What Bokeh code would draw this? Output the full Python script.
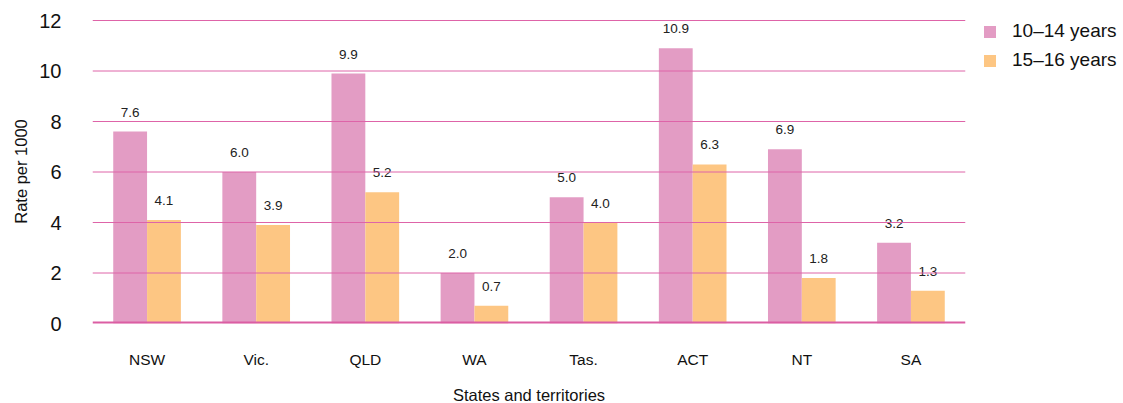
from bokeh.plotting import figure
from bokeh.models import (ColumnDataSource, FactorRange, Range1d, Span, Legend, LegendItem,
                          LabelSet, FixedTicker)
from bokeh.core.properties import value
from bokeh.transform import dodge
from bokeh.embed import file_html
from bokeh.resources import INLINE

states = ["NSW", "Vic.", "QLD", "WA", "Tas.", "ACT", "NT", "SA"]
age_10_14 = [7.6, 6.0, 9.9, 2.0, 5.0, 10.9, 6.9, 3.2]
age_15_16 = [4.1, 3.9, 5.2, 0.7, 4.0, 6.3, 1.8, 1.3]
series_names = ["10\u201314 years", "15\u201316 years"]
y_ticks = [0, 2, 4, 6, 8, 10, 12]

PINK = "#e39cc4"
ORANGE = "#fdc683"
LINE = "#db5ea3"
GRID = "#de64a8"
FONT = "Liberation Sans"

src = ColumnDataSource(dict(
    state=states, a=age_10_14, b=age_15_16,
    la=[f"{v:.1f}" for v in age_10_14], lb=[f"{v:.1f}" for v in age_15_16],
))

p = figure(frame_width=873, frame_height=304, x_range=FactorRange(*states, range_padding=0),
           y_range=Range1d(0, 12.04), output_backend="svg", toolbar_location=None,
           min_border_left=92, min_border_right=158, min_border_top=19, min_border_bottom=80)
p.outline_line_color = None

bw = 0.31
ra = p.vbar(x=dodge("state", -bw / 2, range=p.x_range), top="a", width=bw, source=src,
            fill_color=PINK, line_color=None)
rb = p.vbar(x=dodge("state", bw / 2, range=p.x_range), top="b", width=bw, source=src,
            fill_color=ORANGE, line_color=None)

for col, lab, off in (("a", "la", -bw / 2), ("b", "lb", bw / 2)):
    ls = LabelSet(x=dodge("state", off, range=p.x_range), y=col, text=lab, source=src,
                  text_align="center", text_baseline="alphabetic", y_offset=15,
                  text_font=value(FONT), text_font_size="13.5px", text_color="#222222")
    p.add_layout(ls)

# gridlines drawn over bars
p.xgrid.grid_line_color = None
p.ygrid.grid_line_color = None
for t in y_ticks[1:]:
    p.add_layout(Span(location=t, dimension="width", line_color=GRID, line_width=1,
                      level="overlay"))
p.add_layout(Span(location=0, dimension="width", line_color=LINE, line_width=4, level="overlay"))

p.yaxis.ticker = FixedTicker(ticks=y_ticks)
p.yaxis.axis_line_color = None
p.yaxis.major_tick_line_color = None
p.yaxis.minor_tick_line_color = None
p.yaxis.major_label_standoff = 25
p.yaxis.major_label_text_font = FONT
p.yaxis.major_label_text_font_size = "20px"
p.yaxis.major_label_text_color = "#111111"
p.yaxis.axis_label = "Rate per 1000"
p.yaxis.axis_label_text_font = FONT
p.yaxis.axis_label_text_font_size = "16.5px"
p.yaxis.axis_label_text_font_style = "normal"
p.yaxis.axis_label_text_color = "#111111"
p.yaxis.axis_label_standoff = 6

p.xaxis.axis_line_color = None
p.xaxis.major_tick_line_color = None
p.xaxis.minor_tick_line_color = None
p.xaxis.major_label_standoff = 21
p.xaxis.major_label_text_font = FONT
p.xaxis.major_label_text_font_size = "15.5px"
p.xaxis.major_label_text_color = "#111111"
p.xaxis.axis_label = "States and territories"
p.xaxis.axis_label_text_font = FONT
p.xaxis.axis_label_text_font_size = "16.5px"
p.xaxis.axis_label_text_font_style = "normal"
p.xaxis.axis_label_text_color = "#111111"
p.xaxis.axis_label_standoff = 15

legend = Legend(items=[LegendItem(label=series_names[0], renderers=[ra]),
                       LegendItem(label=series_names[1], renderers=[rb])],
                location=(17, 252), margin=0, padding=0, spacing=7,
                glyph_width=15, glyph_height=15, label_height=22, label_standoff=15,
                label_text_font=FONT, label_text_font_size="19px", label_text_color="#111111",
                border_line_color=None, background_fill_alpha=0)
p.add_layout(legend, "right")

open("out.html", "w").write(file_html(p, INLINE))
